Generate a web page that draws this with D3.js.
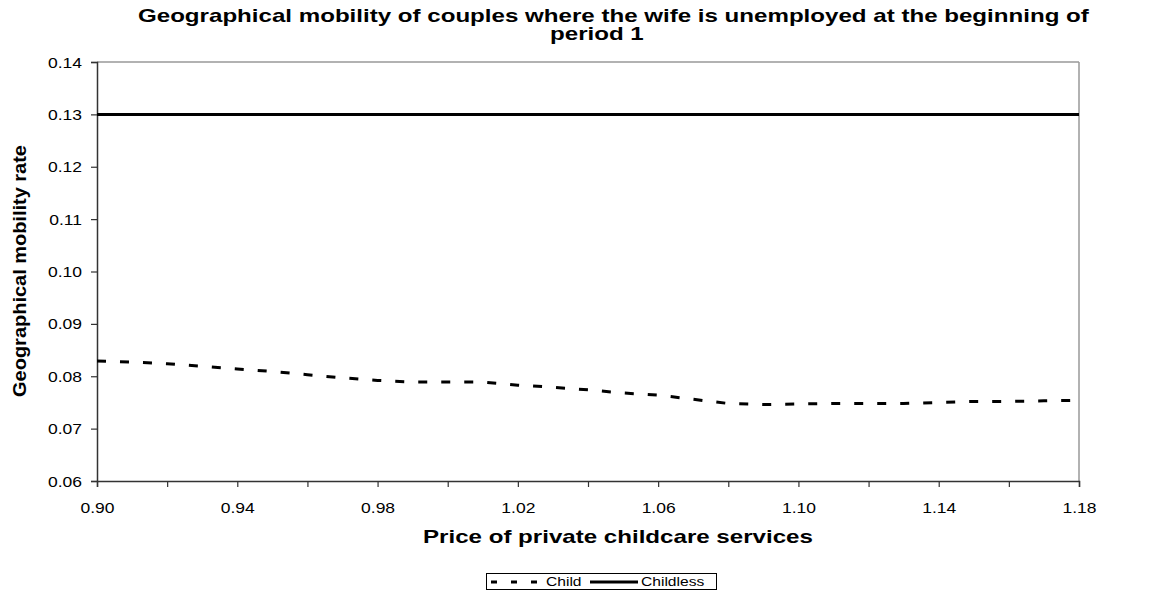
<!DOCTYPE html>
<html><head><meta charset="utf-8">
<script src="https://cdn.jsdelivr.net/npm/d3@7"></script>
<style>body{margin:0;background:#fff}svg{display:block;font-family:Arial,"Liberation Sans",sans-serif}</style>
</head><body><svg id="c" width="1169" height="590"></svg>
<script>
const prices = [0.90,0.91,0.92,0.93,0.94,0.95,0.96,0.97,0.98,0.99,1.00,1.01,1.02,1.03,1.04,1.05,1.06,1.07,1.08,1.09,1.10,1.11,1.12,1.13,1.14,1.15,1.16,1.17,1.18];
const child = [0.0829,0.0827,0.0824,0.0819,0.0814,0.0809,0.0803,0.0797,0.0792,0.0789,0.0789,0.0789,0.0783,0.0779,0.0774,0.0768,0.0764,0.0756,0.0748,0.0746,0.0747,0.0748,0.0748,0.0748,0.0750,0.0752,0.0752,0.0753,0.0754];
const childless = prices.map(() => 0.13);
const yTicks = [0.06,0.07,0.08,0.09,0.10,0.11,0.12,0.13,0.14];
const xTicks = [0.90,0.92,0.94,0.96,0.98,1.00,1.02,1.04,1.06,1.08,1.10,1.12,1.14,1.16,1.18];
const xLabels = [0.90,0.94,0.98,1.02,1.06,1.10,1.14,1.18];
const titleLines = ["Geographical mobility of couples where the wife is unemployed at the beginning of","period 1"];
const seriesNames = ["Child","Childless"];

const svg = d3.select("#c");
const L=97,R=1079,T=62,B=481;
const x = d3.scaleLinear().domain([0.90,1.18]).range([L,R]);
const y = d3.scaleLinear().domain([0.06,0.14]).range([B,T]);
const SX = 1.25;

// frame
svg.append("line").attr("x1",L).attr("x2",R).attr("y1",T).attr("y2",T).attr("stroke","#999").attr("stroke-width",1.5);
svg.append("line").attr("x1",R).attr("x2",R).attr("y1",T).attr("y2",B).attr("stroke","#999").attr("stroke-width",1.5);

// axes
const yAxis = d3.axisLeft(y).tickValues(yTicks).tickFormat(d3.format(".2f")).tickSize(6).tickPadding(10);
const gy = svg.append("g").attr("transform",`translate(${L},0)`).call(yAxis);
const xAxis = d3.axisBottom(x).tickValues(xTicks).tickFormat(d => xLabels.some(v=>Math.abs(v-d)<1e-9) ? d3.format(".2f")(d) : "").tickSize(6).tickPadding(9);
const gx = svg.append("g").attr("transform",`translate(0,${B})`).call(xAxis);
[gx,gy].forEach(g=>{
  g.select(".domain").attr("stroke","#333").attr("stroke-width",1.5);
  g.selectAll(".tick line").attr("stroke","#333").attr("stroke-width",1.2);
  g.selectAll("text").attr("font-size",14).attr("fill","#000").attr("font-family","Arial,'Liberation Sans',sans-serif");
});
// stretch tick labels horizontally around their anchor
gy.selectAll(".tick text").attr("x",null).attr("dy",null).attr("y",5)
  .attr("transform",`translate(-15,0) scale(${SX},1)`);
gx.selectAll(".tick text").attr("dy",null).attr("y",0)
  .attr("transform",`translate(0,32) scale(${SX},1)`);

// lines
const line = d3.line().x((d,i)=>x(prices[i])).y(d=>y(d));
svg.append("path").datum(childless).attr("d",line).attr("fill","none").attr("stroke","#000").attr("stroke-width",3);
svg.append("path").datum(child).attr("d",line).attr("fill","none").attr("stroke","#000").attr("stroke-width",3).attr("stroke-dasharray","9,14");

// title
const TS = 1.34;
svg.append("text").attr("transform",`translate(138,22) scale(${TS},1)`).attr("font-weight","bold").attr("font-size",18).text(titleLines[0]);
svg.append("text").attr("transform",`translate(550,40) scale(${TS},1)`).attr("font-weight","bold").attr("font-size",18).text(titleLines[1]);

// axis titles
svg.append("text").attr("transform",`translate(423,543) scale(${TS},1)`).attr("font-weight","bold").attr("font-size",18).text("Price of private childcare services");
svg.append("text").attr("transform","translate(26,271) rotate(-90) scale(1.11,1)").attr("text-anchor","middle").attr("font-weight","bold").attr("font-size",18).text("Geographical mobility rate");

// legend
const lg = svg.append("g");
lg.append("rect").attr("x",486.5).attr("y",573.5).attr("width",230).attr("height",16).attr("fill","#fff").attr("stroke","#000").attr("stroke-width",1);
lg.append("line").attr("x1",491).attr("x2",544).attr("y1",582).attr("y2",582).attr("stroke","#000").attr("stroke-width",3).attr("stroke-dasharray","6,14");
lg.append("text").attr("transform","translate(546,586) scale(1.3,1)").attr("font-size",12).text(seriesNames[0]);
lg.append("line").attr("x1",590).attr("x2",638).attr("y1",582).attr("y2",582).attr("stroke","#000").attr("stroke-width",3);
lg.append("text").attr("transform","translate(641,586) scale(1.3,1)").attr("font-size",12).text(seriesNames[1]);
</script></body></html>
